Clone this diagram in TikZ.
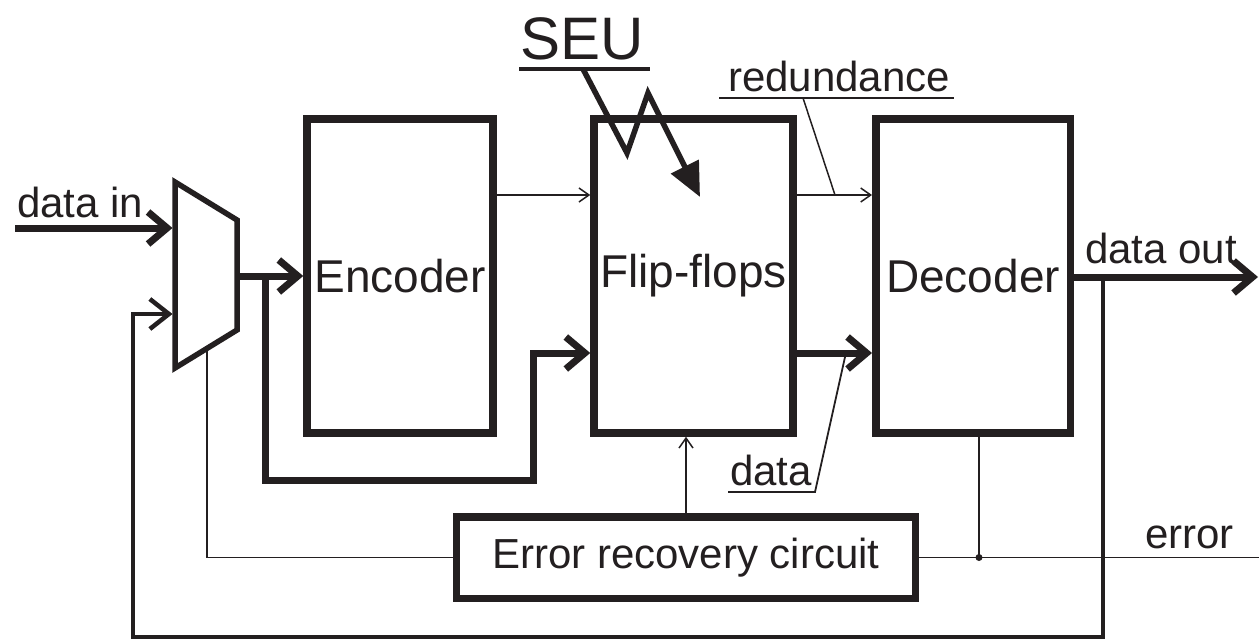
\documentclass[tikz,border=0pt]{standalone}
\usepackage{fontspec}
\setmainfont{Liberation Sans}
\usetikzlibrary{arrows.meta}
\definecolor{ink}{HTML}{231F20}
\begin{document}
\begin{tikzpicture}[x=1pt,y=-1pt,
  blk/.style={draw=ink, line width=7.5pt, inner sep=0pt, font=\fontsize{46}{50}\selectfont, text=ink},
  lbl/.style={inner sep=0pt, anchor=base west, font=\fontsize{42}{46}\selectfont, text=ink},
  thickln/.style={draw=ink, line width=7pt, line join=miter},
  medln/.style={draw=ink, line width=4.5pt, line join=miter},
  thinln/.style={draw=ink, line width=1.5pt},
  bigarr/.style={-{Straight Barb[length=19pt,width=32pt]}},
  medarr/.style={-{Straight Barb[length=19pt,width=30pt]}},
  smallarr/.style={-{Straight Barb[length=10pt,width=14pt]}},
]
\useasboundingbox (0,0) rectangle (1259,642);

% blocks
\node[blk, minimum width=186pt, minimum height=314pt] (enc) at (400,276) {Encoder};
\node[blk, minimum width=199pt, minimum height=314pt] (ff) at (693.5,276) {Flip-flops};
\node[blk, minimum width=194.5pt, minimum height=314pt] (dec) at (973,276) {Decoder};
\node[blk, minimum width=459pt, minimum height=81.5pt, font=\fontsize{42}{46}\selectfont] (err) at (686,557.5) {Error recovery circuit};

% multiplexer
\draw[ink, line width=5.5pt, line join=miter] (175,182) -- (237,220) -- (237,330) -- (175,368) -- cycle;
\coordinate (muxin1) at (172.5,228);
\coordinate (muxin2) at (172.5,314);
\coordinate (muxout) at (239.5,276);
\coordinate (muxsel) at (207,348);

% named points
\coordinate (din) at (15,228);
\coordinate (br1) at (265,276);
\coordinate (fd) at (533,353);
\coordinate (ry) at (0,195);
\coordinate (dout) at (1258,277);
\coordinate (fb) at (1103,277);
\coordinate (dot) at (979,557.5);
\coordinate (errend) at (1259,557.5);

% connectors
\draw[thickln,bigarr] (din) -- (muxin1);
\draw[thickln,bigarr] (muxout) -- (enc.west |- muxout);
\draw[thickln,bigarr] (br1) -- (265,480) -| (fd) -- (ff.west |- fd);
\draw[thinln,smallarr] (enc.east |- ry) -- (ff.west |- ry);
\draw[thinln,smallarr] (ff.east |- ry) -- (dec.west |- ry);
\draw[thickln,bigarr] (ff.east |- fd) -- (dec.west |- fd);
\draw[thickln,bigarr] (dec.east |- dout) -- (dout);
\draw[medln,medarr] (fb) -- (1103,637) -| (133,314) -- (muxin2);
\draw[thinln] (dec.south -| dot) -- (dot);
\fill[ink] (dot) circle (3.5pt);
\draw[thinln] (err.east) -- (errend);
\draw[thinln,smallarr] (err.north) -- (err.north |- ff.south);
\draw[thinln] (err.west) -| (muxsel);

% labels
\node[lbl] (lin) at (17,217) {data in};
\node[lbl] (lout) at (1085,263) {data out};
\node[lbl] (lerr) at (1145,548) {error};
\node[lbl] (lred) at (728,92) {redundance};
\draw[ink, line width=2pt] (719,98) -- (954,98);
\draw[thinln] (803,98) -- (835,195);
\node[lbl] (ldat) at (730,485) {data};
\draw[ink, line width=1.8pt] (728,492) -- (815,492) -- (845,357);

% SEU
\node[lbl, font=\fontsize{60}{64}\selectfont] (seu) at (520,60) {SEU};
\draw[ink, line width=4pt] (519,69) -- (650,69);
\draw[ink, line width=5.5pt, line join=miter, -{Triangle[length=34pt,width=30pt]}] (583,69) -- (627,153) -- (648,93) -- (700,197);
\end{tikzpicture}
\end{document}
